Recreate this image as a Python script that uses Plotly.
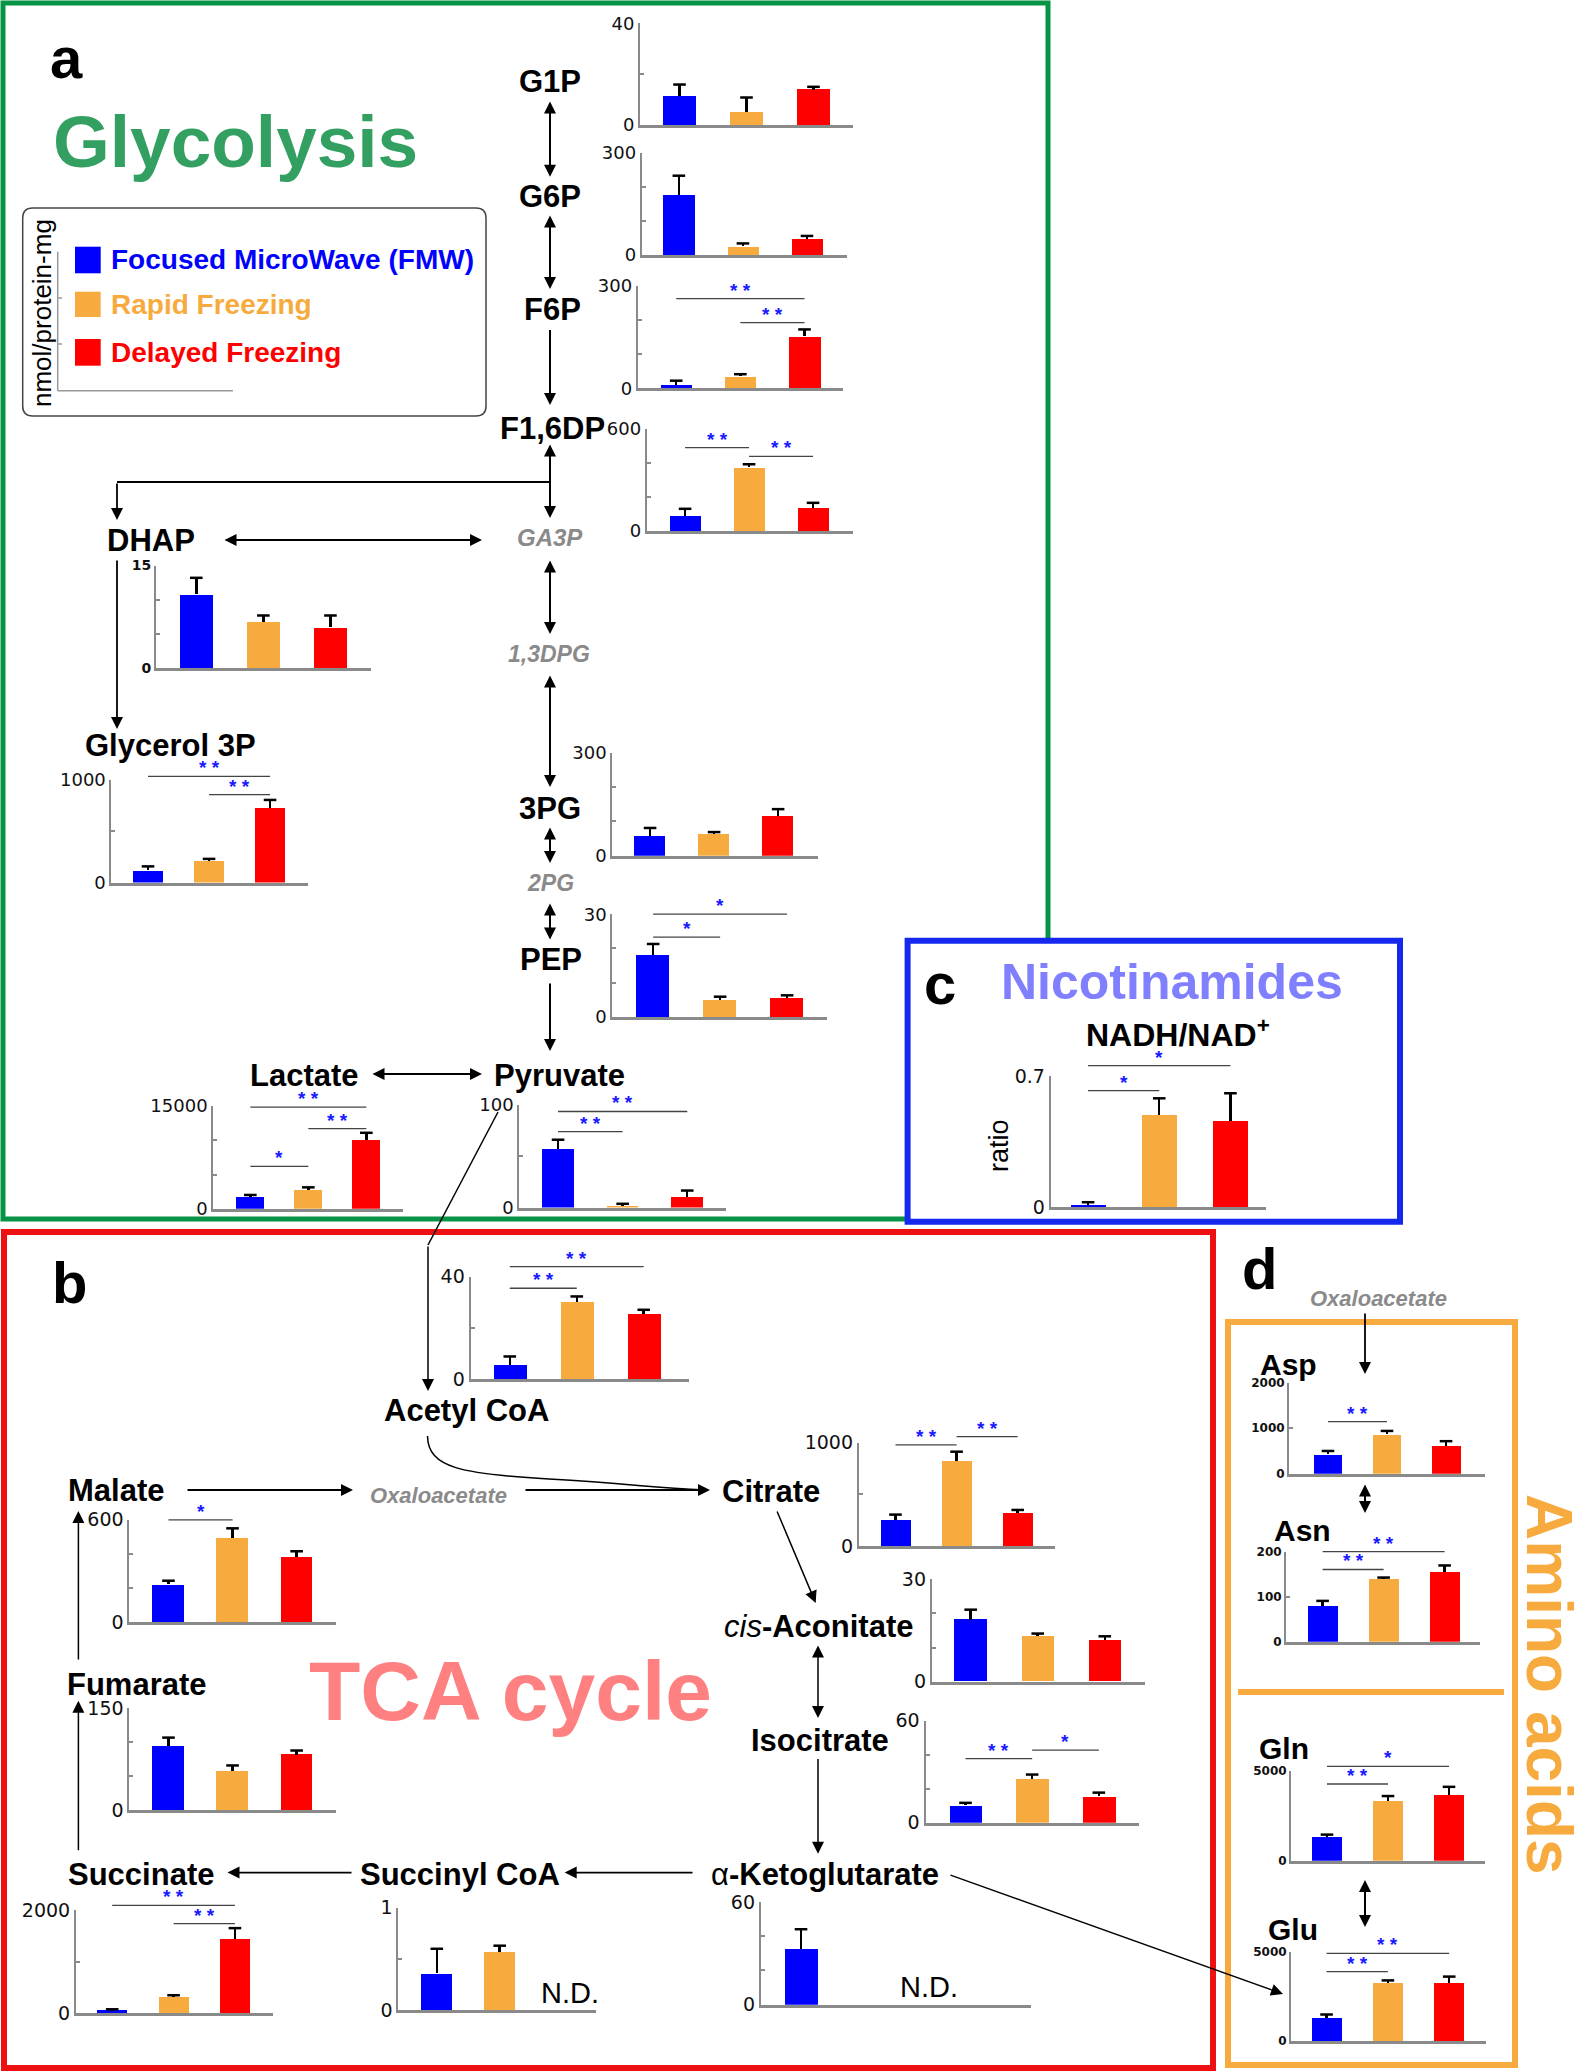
import plotly.graph_objects as go

W, H = 1575, 2072

GROUPS = ["Focused MicroWave (FMW)", "Rapid Freezing", "Delayed Freezing"]
COLORS = ["#0000ff", "#f7ab3e", "#ff0000"]

# ---------------- data (nmol/protein-mg, mean and upper error) ----------------
G1P_MEAN = [11.5, 5.2, 13.9];      G1P_ERR = [4.4, 5.6, 1.1]
G6P_MEAN = [177, 25, 47];          G6P_ERR = [56, 9, 9]
F6P_MEAN = [10, 35, 152];          F6P_ERR = [12, 6, 20]
F16DP_MEAN = [90, 374, 136];       F16DP_ERR = [40, 17, 29]
DHAP_MEAN = [10.8, 6.8, 6.0];      DHAP_ERR = [2.4, 0.9, 1.7]
GLY3P_MEAN = [117, 213, 730];      GLY3P_ERR = [40, 17, 74]
LAC_MEAN = [1760, 2800, 9980];     LAC_ERR = [260, 330, 1110]
PG3_MEAN = [57, 64, 116];          PG3_ERR = [24, 5, 20]
PEP_MEAN = [18.0, 5.0, 5.4];       PEP_ERR = [3.3, 0.9, 0.9]
PYR_MEAN = [57, 1, 10];            PYR_ERR = [9, 2.6, 6.5]
NADH_MEAN = [0.011, 0.492, 0.460]; NADH_ERR = [0.016, 0.089, 0.148]
ACCOA_MEAN = [5.6, 30.3, 25.5];    ACCOA_ERR = [3.3, 2.0, 1.6]
CIT_MEAN = [252, 826, 323];        CIT_ERR = [52, 87, 26]
MAL_MEAN = [221, 494, 382];        MAL_ERR = [22, 55, 33]
CISACO_MEAN = [18.2, 13.3, 12.1];  CISACO_ERR = [2.9, 0.8, 1.2]
ISOCIT_MEAN = [10.2, 25.7, 15.7];  ISOCIT_ERR = [1.5, 2.6, 2.0]
FUM_MEAN = [94, 58, 82];           FUM_ERR = [13, 8, 6]
SUCC_MEAN = [51, 315, 1443];       SUCC_ERR = [29, 37, 213]
SUCCOA_MEAN = [0.36, 0.57];        SUCCOA_ERR = [0.24, 0.06]
AKG_MEAN = [32.6];                 AKG_ERR = [11.5]
ASP_MEAN = [429, 869, 607];        ASP_ERR = [70, 70, 107]
ASN_MEAN = [79, 139, 156];         ASN_ERR = [12, 4, 14]
GLN_MEAN = [1333, 3303, 3667];     GLN_ERR = [120, 300, 450]
GLU_MEAN = [1303, 3273, 3273];     GLU_ERR = [180, 120, 333]

# axis tick values (last value = axis maximum)
G1P_TICKS = [0, 20, 40]
G6P_TICKS = [0, 100, 200, 300]
F6P_TICKS = [0, 100, 200, 300]
F16DP_TICKS = [0, 200, 400, 600]
DHAP_TICKS = [0, 5, 10, 15]
GLY3P_TICKS = [0, 500, 1000]
LAC_TICKS = [0, 5000, 10000, 15000]
PG3_TICKS = [0, 100, 200, 300]
PEP_TICKS = [0, 10, 20, 30]
PYR_TICKS = [0, 50, 100]
NADH_TICKS = [0, 0.7]
ACCOA_TICKS = [0, 20, 40]
CIT_TICKS = [0, 500, 1000]
MAL_TICKS = [0, 200, 400, 600]
CISACO_TICKS = [0, 10, 20, 30]
ISOCIT_TICKS = [0, 20, 40, 60]
FUM_TICKS = [0, 50, 100, 150]
SUCC_TICKS = [0, 1000, 2000]
SUCCOA_TICKS = [0, 0.5, 1]
AKG_TICKS = [0, 20, 40, 60]
ASP_TICKS = [0, 1000, 2000]
ASN_TICKS = [0, 100, 200]
GLN_TICKS = [0, 5000]
GLU_TICKS = [0, 5000]

# significance brackets: (group i, group j, bracket level in data units, stars)
SIG = {
    "F6P": [(0, 2, 262, "* *"), (1, 2, 192, "* *")],
    "F16DP": [(0, 1, 489, "* *"), (1, 2, 437, "* *")],
    "GLY3P": [(0, 2, 1034, "* *"), (1, 2, 856, "* *")],
    "LAC": [(0, 2, 14850, "* *"), (1, 2, 11700, "* *"), (0, 1, 6190, "*")],
    "PEP": [(0, 2, 30, "*"), (0, 1, 23.3, "*")],
    "PYR": [(0, 2, 93.5, "* *"), (0, 1, 73.9, "* *")],
    "NADH": [(0, 1, 0.622, "*"), (0, 2, 0.755, "*")],
    "ACCOA": [(0, 2, 43.9, "* *"), (0, 1, 35.5, "* *")],
    "CIT": [(0, 1, 978, "* *"), (1, 2, 1058, "* *")],
    "MAL": [(0, 1, 598, "*")],
    "ISOCIT": [(0, 1, 37.6, "* *"), (1, 2, 42.6, "*")],
    "SUCC": [(0, 2, 2097, "* *"), (1, 2, 1744, "* *")],
    "ASP": [(0, 1, 1144, "* *")],
    "ASN": [(0, 2, 200.7, "* *"), (0, 1, 161, "* *")],
    "GLN": [(0, 2, 5262, "*"), (0, 1, 4275, "* *")],
    "GLU": [(0, 2, 4910, "* *"), (0, 1, 3880, "* *")],
}
ND = {"SUCCOA": 2.11, "AKG": 1.91}

# ---------------- layout helpers ----------------
def fx(x):
    return x / W


def fy(y):
    return 1 - y / H


BLUE, ORANGE, RED = COLORS
GREEN = "#079447"
GREEN_T = "#33a062"
GRAY = "#8a8a8a"
AX = "#8a8a8a"
STAR = "#1a1aff"

# chart placement: name, mean, err, box px (x0, x1, ytop, ybot), x range, tick values, tick style
CHARTS = [
    ("G1P", G1P_MEAN, G1P_ERR, (640, 853, 23.2, 125), (-0.59, 2.59), G1P_TICKS, "a"),
    ("G6P", G6P_MEAN, G6P_ERR, (641.7, 846.7, 152.9, 255), (-0.58, 2.62), G6P_TICKS, "a"),
    ("F6P", F6P_MEAN, F6P_ERR, (637.7, 843, 285.7, 388.2), (-0.6, 2.6), F6P_TICKS, "a"),
    ("F16DP", F16DP_MEAN, F16DP_ERR, (646.7, 852.7, 428.6, 531), (-0.6, 2.62), F16DP_TICKS, "a"),
    ("DHAP", DHAP_MEAN, DHAP_ERR, (156, 370.7, 565.5, 668.2), (-0.6, 2.6), DHAP_TICKS, "s"),
    ("GLY3P", GLY3P_MEAN, GLY3P_ERR, (111.4, 307.9, 779.8, 882.5), (-0.6, 2.62), GLY3P_TICKS, "a"),
    ("LAC", LAC_MEAN, LAC_ERR, (213.2, 402.9, 1106, 1208.8), (-0.64, 2.63), LAC_TICKS, "a"),
    ("PG3", PG3_MEAN, PG3_ERR, (612.3, 817.8, 753, 855.7), (-0.59, 2.62), PG3_TICKS, "a"),
    ("PEP", PEP_MEAN, PEP_ERR, (612.3, 826.6, 914.2, 1016.9), (-0.61, 2.59), PEP_TICKS, "a"),
    ("PYR", PYR_MEAN, PYR_ERR, (519.3, 726, 1104.8, 1207.5), (-0.6, 2.6), PYR_TICKS, "a"),
    ("NADH", NADH_MEAN, NADH_ERR, (1050.7, 1266, 1076, 1207.3), (-0.525, 2.5), NADH_TICKS, "b"),
    ("ACCOA", ACCOA_MEAN, ACCOA_ERR, (470.6, 688.6, 1276.7, 1379.3), (-0.585, 2.67), ACCOA_TICKS, "b"),
    ("CIT", CIT_MEAN, CIT_ERR, (858.8, 1055, 1442.7, 1546), (-0.6, 2.61), CIT_TICKS, "b"),
    ("MAL", MAL_MEAN, MAL_ERR, (129.4, 335.7, 1519.6, 1622.3), (-0.61, 2.61), MAL_TICKS, "b"),
    ("CISACO", CISACO_MEAN, CISACO_ERR, (931.8, 1145, 1579.3, 1681.7), (-0.58, 2.6), CISACO_TICKS, "b"),
    ("ISOCIT", ISOCIT_MEAN, ISOCIT_ERR, (925.5, 1138.8, 1720.5, 1822.8), (-0.6, 2.6), ISOCIT_TICKS, "b"),
    ("FUM", FUM_MEAN, FUM_ERR, (129.4, 335.7, 1708.4, 1810.3), (-0.61, 2.61), FUM_TICKS, "b"),
    ("SUCC", SUCC_MEAN, SUCC_ERR, (76, 273, 1910.4, 2013.4), (-0.59, 2.62), SUCC_TICKS, "b"),
    ("SUCCOA", SUCCOA_MEAN, SUCCOA_ERR, (398.4, 596, 1907.7, 2010.4), (-0.61, 2.53), SUCCOA_TICKS, "b"),
    ("AKG", AKG_MEAN, AKG_ERR, (760.8, 1031, 1902, 2004.7), (-0.6, 3.43), AKG_TICKS, "b"),
    ("ASP", ASP_MEAN, ASP_ERR, (1289, 1485, 1382.6, 1473.7), (-0.66, 2.66), ASP_TICKS, "d"),
    ("ASN", ASN_MEAN, ASN_ERR, (1286, 1480, 1552, 1641.7), (-0.6, 2.58), ASN_TICKS, "d"),
    ("GLN", GLN_MEAN, GLN_ERR, (1291, 1485, 1771, 1860.7), (-0.59, 2.59), GLN_TICKS, "d"),
    ("GLU", GLU_MEAN, GLU_ERR, (1291, 1486, 1951.7, 2041), (-0.58, 2.6), GLU_TICKS, "d"),
]

TICKSTYLE = {
    "a": dict(font=dict(family="DejaVu Sans", size=18, color="#111"), all=False),
    "b": dict(font=dict(family="DejaVu Sans", size=19, color="#111"), all=False),
    "s": dict(font=dict(family="DejaVu Sans", size=14, color="#111", weight="bold"), all=False),
    "d": dict(font=dict(family="DejaVu Sans", size=12, color="#111", weight="bold"), all=True),
}


def fmt(v):
    return str(int(v)) if float(v).is_integer() else str(v)


fig = go.Figure()
layout = {}
shapes = []
annotations = []

for k, (name, mean, err, box, xr, ticks, style) in enumerate(CHARTS, 1):
    ymax = ticks[-1]
    sx = "" if k == 1 else str(k)
    xa, ya = "x" + sx, "y" + sx
    n = len(mean)
    xs = list(range(n))
    fig.add_trace(go.Bar(
        x=xs, y=mean, width=0.49,
        marker=dict(color=COLORS[:n], line=dict(width=0)),
        error_y=dict(type="data", symmetric=False, array=err, arrayminus=[0] * n,
                     color="black", thickness=2.5, width=0),
        xaxis=xa, yaxis=ya, hoverinfo="skip", showlegend=False))
    fig.add_trace(go.Scatter(
        x=xs, y=[m + e for m, e in zip(mean, err)], mode="markers",
        marker=dict(symbol="line-ew", size=9, color="black", line=dict(color="black", width=2.5)),
        cliponaxis=False, xaxis=xa, yaxis=ya, hoverinfo="skip", showlegend=False))
    x0, x1, yt, yb = box
    ts = TICKSTYLE[style]
    ttext = [fmt(v) if (ts["all"] or v == 0 or v == ymax) else "" for v in ticks]
    layout["xaxis" + sx] = dict(domain=[fx(x0), fx(x1)], range=list(xr), anchor=ya,
                                showline=True, linecolor=AX, linewidth=3, showticklabels=False,
                                ticks="", showgrid=False, zeroline=False, fixedrange=True,
                                automargin=False)
    layout["yaxis" + sx] = dict(domain=[fy(yb), fy(yt)], range=[0, ymax], anchor=xa,
                                showline=True, linecolor=AX, linewidth=2, ticks="inside",
                                ticklen=4, tickwidth=1.5, tickcolor=AX, tickvals=ticks,
                                ticktext=ttext, tickfont=ts["font"], showgrid=False,
                                zeroline=False, fixedrange=True, automargin=False)
    a, b = xr
    for (i, j, lev, s) in SIG.get(name, []):
        dy = lev / ymax
        shapes.append(dict(type="line", xref=xa + " domain", yref=ya + " domain",
                           x0=(i - a) / (b - a), x1=(j - a) / (b - a), y0=dy, y1=dy,
                           line=dict(color="#444", width=1.3), layer="above"))
        annotations.append(dict(text="<b>" + s + "</b>", xref=xa, yref=ya + " domain",
                                x=(i + j) / 2, y=dy, xanchor="center", yanchor="bottom",
                                yshift=-4, showarrow=False,
                                font=dict(family="Arial", size=19, color=STAR)))
    if name in ND:
        annotations.append(dict(text="N.D.", xref=xa, yref=ya + " domain", x=ND[name], y=0.17,
                                xanchor="center", yanchor="middle", showarrow=False,
                                font=dict(family="Arial", size=29, color="black")))

# ---------------- panel boxes ----------------
def rect(x0, y0, x1, y1, color, width, fill=None):
    d = dict(type="rect", xref="paper", yref="paper", x0=fx(x0), x1=fx(x1), y0=fy(y0), y1=fy(y1),
             line=dict(color=color, width=width), layer="below")
    if fill:
        d["fillcolor"] = fill
    return d


def line(x0, y0, x1, y1, color="black", width=2, layer="below"):
    return dict(type="line", xref="paper", yref="paper", x0=fx(x0), x1=fx(x1), y0=fy(y0), y1=fy(y1),
                line=dict(color=color, width=width), layer=layer)


def rrect_path(x0, y0, x1, y1, r):
    X, Y = fx, fy
    return (f"M {X(x0 + r)},{Y(y0)} L {X(x1 - r)},{Y(y0)} Q {X(x1)},{Y(y0)} {X(x1)},{Y(y0 + r)} "
            f"L {X(x1)},{Y(y1 - r)} Q {X(x1)},{Y(y1)} {X(x1 - r)},{Y(y1)} "
            f"L {X(x0 + r)},{Y(y1)} Q {X(x0)},{Y(y1)} {X(x0)},{Y(y1 - r)} "
            f"L {X(x0)},{Y(y0 + r)} Q {X(x0)},{Y(y0)} {X(x0 + r)},{Y(y0)} Z")


shapes += [
    rect(3, 3, 1048, 1219, GREEN, 5),
    rect(4, 1232, 1213, 2068, "#ee1111", 6),
    rect(907.6, 940.7, 1400, 1221.7, "#1428ee", 6, fill="white"),
    rect(1228, 1322, 1515, 2065, ORANGE, 6),
    line(1238, 1692, 1504, 1692, ORANGE, 6),
    # legend box and mini axis
    dict(type="path", xref="paper", yref="paper", path=rrect_path(22.7, 208, 486, 416, 10),
         line=dict(color="#444", width=1.5), layer="below"),
    line(57.7, 251.7, 57.7, 390.7, "#999", 1.5),
    line(57.7, 390.7, 233, 390.7, "#999", 1.5),
    line(57.7, 298, 62, 298, "#999", 1.5),
    line(57.7, 344, 62, 344, "#999", 1.5),
    # connectors without heads
    line(551, 482, 117, 482, "black", 1.8),
    line(498, 1112, 428, 1245, "black", 1.5),
    dict(type="path", xref="paper", yref="paper",
         path=(f"M {fx(427.5)},{fy(1436)} C {fx(428)},{fy(1468)} {fx(462)},{fy(1474)} {fx(549)},{fy(1479)} "
               f"S {fx(650)},{fy(1488)} {fx(705)},{fy(1490)}"),
         line=dict(color="black", width=1.5), layer="below"),
]

# legend squares and texts
for i, (c, (yy0, yy1)) in enumerate(zip(COLORS, [(246.7, 273.3), (291.7, 317), (339, 365.7)])):
    shapes.append(dict(type="rect", xref="paper", yref="paper", x0=fx(75), x1=fx(100.7),
                       y0=fy(yy0), y1=fy(yy1), fillcolor=c, line=dict(width=0), layer="below"))
    annotations.append(dict(text="<b>" + GROUPS[i] + "</b>", xref="paper", yref="paper",
                            x=fx(109), y=fy((yy0 + yy1) / 2), xanchor="left", yanchor="middle",
                            showarrow=False, font=dict(family="Arial", size=28, color=c)))

# ---------------- arrows ----------------
ARROWS = [
    ((550, 100), (550, 176.8), True, 2),
    ((550, 214), (550, 289), True, 2),
    ((550, 328.6), (550, 405), False, 2),
    ((550, 443), (550, 518), True, 2),
    ((117, 482), (117, 520), False, 1.8),
    ((223, 540), (482, 540), True, 2),
    ((117, 559), (117, 729), False, 1.8),
    ((550, 559), (550, 634), True, 2),
    ((550, 674), (550, 787), True, 2),
    ((550, 826), (550, 863), True, 2),
    ((550, 902), (550, 939.6), True, 2),
    ((550, 982), (550, 1051), False, 2),
    ((371, 1074), (482, 1074), True, 2),
    ((428, 1245), (428, 1391), False, 1.5),
    ((186, 1490), (353, 1490), False, 1.8),
    ((524, 1490), (710, 1490), False, 1.8),
    ((776.5, 1510), (815.7, 1603), False, 1.5),
    ((818, 1644), (818, 1718), True, 1.5),
    ((818, 1757.5), (818, 1853.7), False, 1.5),
    ((694, 1872.6), (564.7, 1872.6), False, 1.8),
    ((353, 1872.6), (227.5, 1872.6), False, 1.8),
    ((78.4, 1851.8), (78.4, 1700.8), False, 1.5),
    ((78.4, 1661), (78.4, 1511), False, 1.5),
    ((949, 1874.5), (1283, 1994), False, 1.3),
    ((1365, 1312), (1365, 1374), False, 1.8),
    ((1365, 1483), (1365, 1513), True, 2),
    ((1365, 1878.5), (1365, 1927), True, 2),
]
for (xt, yt), (xh, yh), dbl, w in ARROWS:
    annotations.append(dict(
        text="", xref="paper", yref="paper", x=fx(xh), y=fy(yh),
        axref="pixel", ayref="pixel", ax=xt - xh, ay=yt - yh,
        showarrow=True, arrowhead=2, startarrowhead=2, arrowsize=2.4 / w, startarrowsize=2.4 / w,
        arrowwidth=w, arrowcolor="black", arrowside="end+start" if dbl else "end",
        standoff=0, startstandoff=0))

# ---------------- text labels ----------------
LABELS = [
    ("<b>a</b>", 66, 57, 58, "black", 0),
    ("<b>Glycolysis</b>", 236, 141, 73, GREEN_T, 0),
    ("<b>G1P</b>", 550, 82, 31, "black", 0),
    ("<b>G6P</b>", 550, 196, 31, "black", 0),
    ("<b>F6P</b>", 552, 310, 31, "black", 0),
    ("<b>F1,6DP</b>", 552, 428, 31, "black", 0),
    ("<b><i>GA3P</i></b>", 549.5, 537, 24, GRAY, 0),
    ("<b>DHAP</b>", 150.5, 540, 31, "black", 0),
    ("<b><i>1,3DPG</i></b>", 549, 654, 23, GRAY, 0),
    ("<b>3PG</b>", 550, 808, 31, "black", 0),
    ("<b><i>2PG</i></b>", 550, 882.5, 23, GRAY, 0),
    ("<b>PEP</b>", 551, 960, 31, "black", 0),
    ("<b>Glycerol 3P</b>", 170.5, 745, 31, "black", 0),
    ("<b>Lactate</b>", 304.5, 1075, 31, "black", 0),
    ("<b>Pyruvate</b>", 559.5, 1075, 31, "black", 0),
    ("<b>c</b>", 940, 984, 58, "black", 0),
    ("<b>Nicotinamides</b>", 1172, 982, 50, "#8080ff", 0),
    ("<b>NADH/NAD<sup>+</sup></b>", 1178, 1033, 32, "black", 0),
    ("ratio", 999, 1145, 27, "black", -90),
    ("nmol/protein-mg", 42, 313, 26, "black", -90),
    ("<b>b</b>", 69, 1282, 58, "black", 0),
    ("<b>Acetyl CoA</b>", 466.5, 1410, 31, "black", 0),
    ("<b>Malate</b>", 116, 1490, 31, "black", 0),
    ("<b><i>Oxaloacetate</i></b>", 438, 1495, 22, GRAY, 0),
    ("<b>Citrate</b>", 771, 1491, 31, "black", 0),
    ("<i>cis</i><b>-Aconitate</b>", 818, 1626, 31, "black", 0),
    ("<b>Isocitrate</b>", 820, 1740, 31, "black", 0),
    ("α<b>-Ketoglutarate</b>", 825, 1874, 31, "black", 0),
    ("<b>Succinyl CoA</b>", 459.6, 1874, 31, "black", 0),
    ("<b>Succinate</b>", 141, 1874, 31, "black", 0),
    ("<b>Fumarate</b>", 137, 1684, 31, "black", 0),
    ("<b>TCA cycle</b>", 511, 1691, 84, "#ff8080", 0),
    ("<b>d</b>", 1259, 1268, 58, "black", 0),
    ("<b><i>Oxaloacetate</i></b>", 1378, 1298, 22, GRAY, 0),
    ("<b>Asp</b>", 1288, 1364, 30, "black", 0),
    ("<b>Asn</b>", 1302, 1530, 30, "black", 0),
    ("<b>Gln</b>", 1284, 1748, 30, "black", 0),
    ("<b>Glu</b>", 1293, 1929, 30, "black", 0),
    ("<b>Amino acids</b>", 1549, 1684, 64, ORANGE, 90),
]
for text, x, y, size, color, ang in LABELS:
    annotations.append(dict(text=text, xref="paper", yref="paper", x=fx(x), y=fy(y),
                            xanchor="center", yanchor="middle", showarrow=False, textangle=ang,
                            font=dict(family="Arial", size=size, color=color)))

fig.update_layout(
    width=W, height=H, autosize=False,
    margin=dict(l=0, r=0, t=0, b=0, pad=0, autoexpand=False),
    paper_bgcolor="white", plot_bgcolor="rgba(0,0,0,0)",
    showlegend=False, bargap=0, shapes=shapes, annotations=annotations,
    **layout,
)

fig.write_html("out.html", config={"displayModeBar": False, "responsive": False},
               post_script="document.body.style.margin='0';")
